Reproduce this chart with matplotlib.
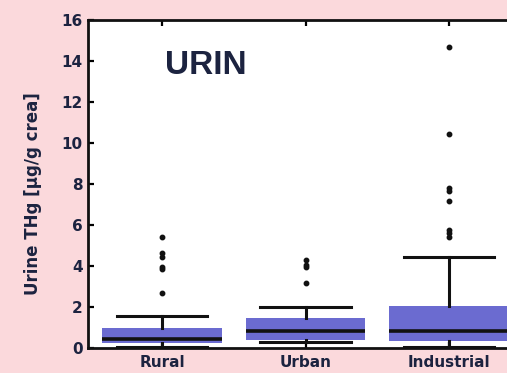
import numpy as np
import matplotlib.pyplot as plt

# urine THg per area, box statistics read as (whislo, q1, med, q3, whishi) + outliers
groups = ["Rural", "Urban", "Industrial"]
whis_lo = [0.05, 0.27, 0.06]
q1 = [0.23, 0.37, 0.36]
medians = [0.42, 0.83, 0.83]
q3 = [1.0, 1.47, 2.07]
whis_hi = [1.56, 2.02, 4.42]
outliers = [
    [5.43, 4.63, 4.45, 3.97, 3.87, 2.67],
    [4.27, 4.05, 3.95, 3.16],
    [14.7, 10.44, 7.79, 7.65, 7.17, 5.76, 5.6, 5.43],
]
yticks = [0, 2, 4, 6, 8, 10, 12, 14, 16]

W, H = 507, 373
fig = plt.figure(figsize=(W / 100, H / 100), dpi=100, facecolor="#fbd9dc")
# plot area runs off the right edge of the figure
ax = fig.add_axes([88 / W, (H - 348) / H, (523 - 88) / W, (348 - 20) / H])

stats = []
for i, g in enumerate(groups):
    stats.append(dict(label=g, whislo=whis_lo[i], q1=q1[i], med=medians[i],
                      q3=q3[i], whishi=whis_hi[i], fliers=outliers[i]))

ink = "#111111"
ax.bxp(stats, positions=[1, 2, 3], widths=0.83, patch_artist=True,
       boxprops=dict(facecolor="#6b6bd0", edgecolor="#6b6bd0", linewidth=0),
       medianprops=dict(color=ink, linewidth=2.6),
       whiskerprops=dict(color=ink, linewidth=2.2),
       capprops=dict(color=ink, linewidth=2.2),
       capwidths=0.63,
       flierprops=dict(marker="o", markersize=3.2, markerfacecolor=ink,
                       markeredgecolor=ink))

ax.set_xlim(0.484, 3.516)
ax.set_ylim(0, 16)
ax.set_yticks(yticks)
ax.set_xticks([1, 2, 3])
ax.set_xticklabels(groups)
label_color = "#1c2340"
ax.tick_params(axis="both", direction="in", length=4, width=1.6,
               top=True, labelsize=11, labelcolor=label_color, pad=4)
ax.tick_params(axis="x", pad=5)
for lab in ax.get_xticklabels() + ax.get_yticklabels():
    lab.set_fontweight("bold")
for sp in ax.spines.values():
    sp.set_linewidth(2)
    sp.set_color(ink)

ax.set_ylabel("Urine THg [µg/g crea]", fontsize=12, fontweight="bold",
              color=label_color)
ax.yaxis.set_label_coords(-0.105, 0.47)
ax.text(0.177, 0.86, "URIN", transform=ax.transAxes, fontsize=24,
        fontweight="bold", color=label_color, family="Liberation Sans",
        ha="left", va="center")

fig.savefig("out.png", dpi=100, facecolor=fig.get_facecolor())
